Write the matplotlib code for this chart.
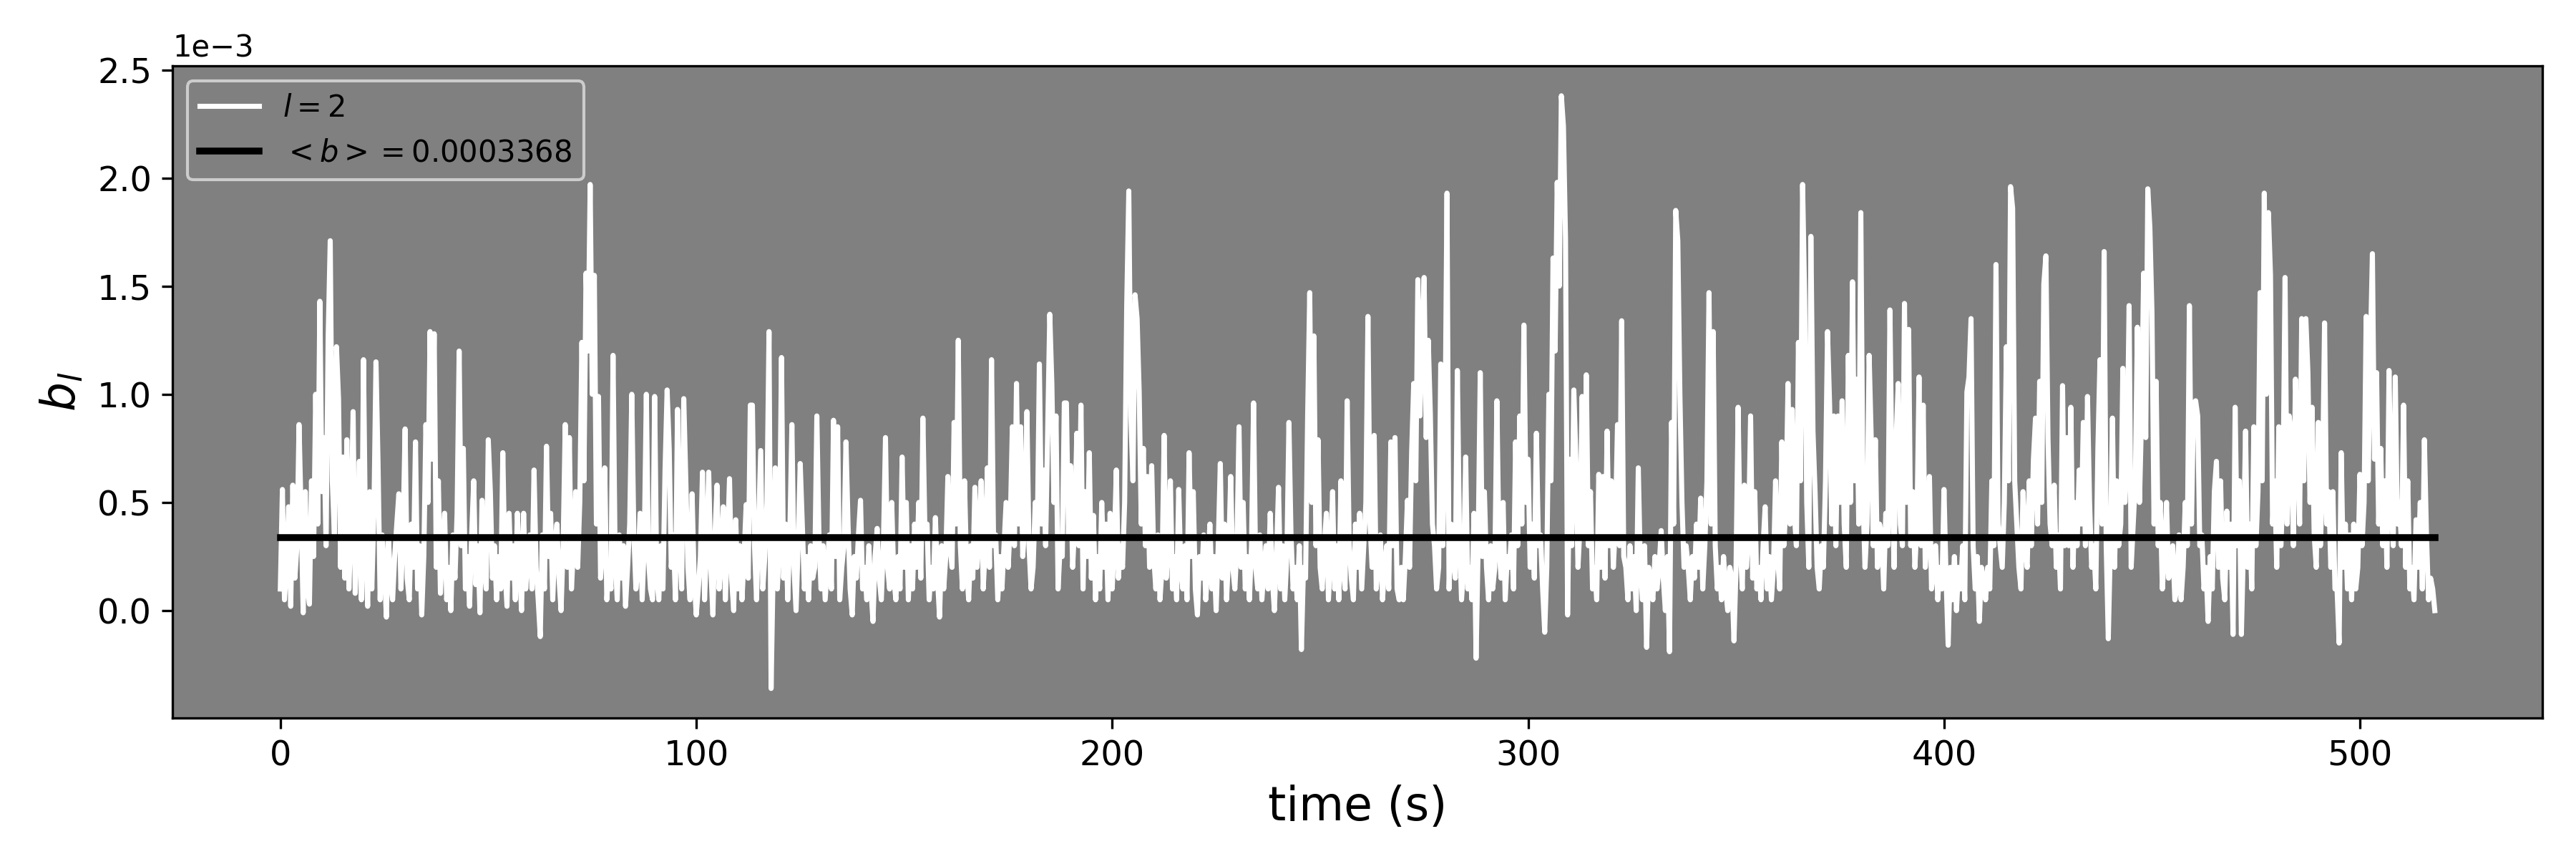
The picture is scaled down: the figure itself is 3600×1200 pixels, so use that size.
import numpy as np
import matplotlib
matplotlib.use("Agg")
import matplotlib.pyplot as plt

# sampling step (s) and unit of the b_l values
dt = 0.5
unit = 1e-3

# b_l values (in units of 1e-3), read every 0.5 s, grouped by 100 s blocks
b_000 = [
    0.10,0.56,0.05,0.20,0.48,0.02,0.58,0.15,0.30,0.86,0.45,-0.01,0.55,0.10,0.03,0.60,0.25,1.00,0.40,1.43,
    0.55,0.80,0.30,1.26,1.71,0.60,0.35,1.22,0.98,0.20,0.71,0.15,0.79,0.10,0.40,0.92,0.08,0.30,0.69,0.05,
    1.16,0.30,0.02,0.55,0.10,0.45,1.15,0.68,0.05,0.35,0.20,-0.03,0.33,0.15,0.05,0.25,0.40,0.54,0.10,0.35,
    0.84,0.15,0.05,0.40,0.20,0.78,0.10,0.30,-0.02,0.25,0.86,0.50,1.29,0.70,1.28,0.20,0.60,0.08,0.30,0.45,
    0.05,0.20,0.00,0.35,0.15,0.45,1.20,0.30,0.75,0.10,0.25,0.02,0.35,0.60,0.12,0.30,-0.01,0.51,0.20,0.10,
    0.79,0.55,0.15,0.30,0.05,0.25,0.10,0.73,0.20,0.02,0.45,0.15,0.30,0.05,0.45,0.20,0.00,0.45,0.10,0.25,
    0.35,0.10,0.65,0.20,0.05,-0.12,0.35,0.10,0.76,0.25,0.45,0.05,0.30,0.40,0.15,0.00,0.30,0.86,0.20,0.80,
    0.10,0.30,0.55,0.20,0.50,1.24,0.60,1.56,1.20,1.97,1.00,1.55,0.40,0.99,0.15,0.30,0.66,0.05,0.20,0.10,
    1.18,0.25,0.05,0.35,0.15,0.30,0.02,0.20,0.40,1.00,0.35,0.10,0.20,0.45,0.05,0.30,1.00,0.25,0.10,0.05,
    0.99,0.15,0.05,0.30,0.10,0.65,1.02,0.75,0.20,0.35,0.05,0.93,0.30,0.10,0.98,0.60,0.20,0.05,0.54,0.15,
]
b_100 = [
    -0.02,0.10,0.25,0.64,0.05,0.30,0.64,0.20,-0.02,0.35,0.58,0.10,0.25,0.48,0.05,0.30,0.61,0.15,0.00,0.42,
    0.10,0.30,0.05,0.25,0.49,0.15,0.95,0.95,0.30,0.05,0.40,0.74,0.10,0.25,0.50,1.29,-0.36,0.20,0.66,0.10,
    0.30,1.17,0.15,0.40,0.05,0.35,0.86,0.20,0.00,0.30,0.68,0.40,0.10,0.25,0.05,0.30,0.15,0.20,0.90,0.35,
    0.10,0.30,0.05,0.20,0.35,0.10,0.88,0.25,0.85,0.05,0.20,0.30,0.78,0.40,0.10,-0.02,0.25,0.15,0.35,0.51,
    0.10,0.20,0.05,0.30,0.10,-0.05,0.25,0.38,0.15,0.05,0.30,0.80,0.20,0.10,0.50,0.15,0.05,0.25,0.10,0.71,
    0.20,0.50,0.05,0.30,0.10,0.40,0.20,0.50,0.15,0.89,0.35,0.40,0.05,0.20,0.10,0.43,0.15,-0.03,0.30,0.10,
    0.25,0.62,0.30,0.20,0.87,0.40,1.25,0.30,0.10,0.60,0.20,0.05,0.30,0.15,0.57,0.20,0.35,0.60,0.10,0.30,
    0.66,0.20,1.16,0.30,0.35,0.05,0.25,0.10,0.30,0.50,0.20,0.40,0.85,0.30,1.05,0.40,0.85,0.25,0.40,0.92,
    0.30,0.10,0.20,0.50,0.35,1.14,0.40,0.65,0.30,0.84,1.37,1.05,0.50,0.90,0.10,0.30,0.25,0.96,0.96,0.35,
    0.67,0.20,0.40,0.82,0.30,0.95,0.10,0.55,0.25,0.73,0.15,0.44,0.05,0.25,0.10,0.50,0.20,0.40,0.05,0.45,
]
b_200 = [
    0.10,0.30,0.65,0.15,0.30,0.20,0.50,1.41,1.94,0.90,0.60,1.46,1.35,1.01,0.40,0.75,0.30,0.62,0.20,0.67,
    0.25,0.10,0.35,0.05,0.20,0.81,0.15,0.30,0.60,0.10,0.25,0.05,0.56,0.20,0.10,0.30,0.05,0.73,0.25,0.55,
    0.10,-0.02,0.25,0.15,0.35,0.05,0.20,0.40,0.10,0.25,0.00,0.30,0.68,0.15,0.40,0.05,0.25,0.62,0.20,0.10,
    0.30,0.85,0.20,0.50,0.10,0.25,0.05,0.30,0.96,0.20,0.10,0.35,0.05,0.20,0.30,0.10,0.45,0.15,0.00,0.25,
    0.57,0.10,0.30,0.05,0.25,0.87,0.35,0.10,0.20,0.05,0.30,-0.18,0.20,0.15,0.90,1.47,0.50,1.27,0.30,0.79,
    0.20,0.10,0.30,0.45,0.05,0.25,0.55,0.10,0.30,0.05,0.60,0.20,0.10,0.97,0.30,0.15,0.05,0.40,0.20,0.45,
    0.10,0.30,0.50,1.36,0.40,0.20,0.81,0.10,0.25,0.35,0.05,0.20,0.30,0.10,0.78,0.30,0.80,0.10,0.05,0.20,
    0.05,0.25,0.51,0.20,0.73,1.05,0.60,1.53,0.90,1.27,1.54,0.80,1.25,0.91,0.40,0.30,0.10,0.20,1.14,0.30,
    0.75,1.93,0.10,0.40,0.25,0.15,1.11,0.35,0.05,0.20,0.71,0.10,0.20,0.05,0.45,-0.22,0.30,1.10,0.25,0.55,
    0.20,0.05,0.30,0.10,0.20,0.97,0.30,0.15,0.50,0.05,0.25,0.20,0.35,0.10,0.78,0.30,0.90,0.40,1.32,0.50,
]
b_300 = [
    0.70,0.20,0.40,0.15,0.82,0.30,0.35,0.10,-0.10,0.20,1.00,0.60,1.63,1.20,1.98,1.50,2.38,2.24,1.72,-0.02,
    0.70,0.30,1.02,0.70,0.20,0.40,0.99,0.35,1.09,0.30,0.55,0.10,0.20,0.05,0.63,0.20,0.62,0.15,0.83,0.30,
    0.60,0.20,0.40,0.86,0.30,1.34,0.25,0.20,0.05,0.30,0.10,0.25,0.00,0.66,0.20,0.05,0.30,-0.17,0.20,0.15,
    0.05,0.25,0.10,0.20,0.37,0.15,0.00,0.25,-0.19,0.87,0.40,1.85,1.71,1.00,0.50,0.20,0.30,0.20,0.05,0.25,
    0.15,0.40,0.20,0.52,0.10,0.30,0.60,1.47,0.40,1.29,0.30,0.10,0.20,0.05,0.25,0.10,0.00,0.20,0.15,-0.14,
    0.20,0.94,0.30,0.10,0.58,0.20,0.35,0.90,0.15,0.55,0.10,0.20,0.05,0.30,0.48,0.10,0.25,0.05,0.20,0.60,
    0.25,0.10,0.78,0.30,0.50,1.05,0.40,0.93,0.45,0.30,1.24,0.60,1.97,1.44,0.50,0.20,1.73,0.83,0.55,0.20,
    0.10,0.30,0.20,0.60,1.29,0.95,0.40,0.90,0.30,0.90,0.50,0.97,0.40,0.20,1.18,0.50,1.52,0.60,1.07,0.40,
    1.84,0.55,0.20,0.40,1.18,0.80,0.30,0.79,0.20,0.40,0.35,0.10,0.45,0.30,1.39,0.60,0.20,0.80,1.05,0.40,
    0.30,1.42,0.50,1.30,0.30,0.55,0.20,0.40,1.08,0.30,0.95,0.20,0.35,0.62,0.10,0.20,0.30,0.05,0.20,0.10,
]
b_400 = [
    0.56,0.15,-0.16,0.20,0.05,0.25,0.00,0.20,0.10,0.30,0.05,1.01,1.08,1.35,0.30,0.10,0.25,-0.05,0.20,0.15,
    0.05,0.20,0.10,0.60,0.30,1.60,0.40,0.30,0.20,0.50,1.22,0.60,1.96,1.86,0.60,0.40,0.20,0.10,0.55,0.30,
    0.20,0.60,0.30,0.70,0.89,0.40,1.06,0.50,1.51,1.64,0.80,0.40,0.30,0.58,0.20,0.35,0.10,1.04,0.30,0.80,
    0.30,0.94,0.20,0.50,0.30,0.65,0.40,0.87,0.30,0.99,0.50,0.20,0.30,0.10,0.75,1.16,0.40,1.66,0.30,-0.13,
    0.30,0.89,0.20,0.60,0.30,0.40,1.12,0.50,0.70,1.41,0.20,0.40,0.60,1.31,0.50,0.90,1.56,0.80,1.95,1.77,
    1.38,0.40,1.06,0.30,0.50,0.10,0.25,0.50,0.15,0.20,0.30,0.05,0.10,0.35,0.05,0.20,0.50,0.30,1.41,0.40,
    0.96,0.97,0.90,0.30,0.35,0.10,0.20,-0.05,0.25,0.10,0.55,0.69,0.20,0.60,0.15,0.05,0.46,0.20,0.40,-0.11,
    0.94,0.30,0.60,-0.11,0.30,0.83,0.20,0.40,0.10,0.85,0.30,0.55,1.47,0.60,1.93,1.00,1.84,1.55,0.40,0.60,
    0.20,0.85,0.30,0.55,1.54,0.40,0.90,0.80,0.30,1.07,0.80,0.40,1.35,0.60,1.35,1.10,0.50,0.94,0.35,0.20,
    0.87,0.30,0.60,1.33,0.40,0.55,0.20,0.55,0.10,0.10,-0.15,0.73,0.20,0.40,0.10,0.35,0.05,0.40,0.10,0.20,
]
b_500 = [
    0.63,0.30,0.50,1.36,0.60,1.20,1.65,0.70,1.10,0.40,0.75,0.30,0.60,0.20,1.11,0.50,0.30,1.08,0.40,0.50,
    0.30,0.95,0.20,0.60,0.10,0.20,0.05,0.42,0.20,0.50,0.10,0.79,0.35,0.05,0.15,0.10,0.00,
]
block_starts = [0, 100, 200, 300, 400, 500]

b_mean = 0.0003368
series_label = r"$l=2$"
mean_label = r"$<b> = 0.0003368$"

blocks = [b_000, b_100, b_200, b_300, b_400, b_500]
t = np.concatenate([s + dt * np.arange(len(b)) for s, b in zip(block_starts, blocks)])
b = np.concatenate([np.asarray(b, dtype=float) for b in blocks]) * unit

fig = plt.figure(figsize=(12, 4), dpi=300)
ax = fig.add_axes([0.067, 0.164, 0.920, 0.759])
ax.set_facecolor("#808080")

ax.plot(t, b, color="white", lw=1.7, label=series_label, zorder=2)
ax.plot([t[0], t[-1]], [b_mean, b_mean], color="black", lw=2.3, label=mean_label, zorder=3)

ax.ticklabel_format(axis="y", style="sci", scilimits=(0, 0))
ax.yaxis.get_offset_text().set_fontsize(10)
ax.tick_params(labelsize=11.5)
ax.set_xlabel("time (s)", fontsize=15.5)
ax.set_ylabel(r"$b_l$", fontsize=15.5)
ax.legend(loc="upper left", fontsize=10, facecolor="#808080", edgecolor="#cccccc",
          framealpha=1.0)

fig.savefig("out.png", dpi=300)
